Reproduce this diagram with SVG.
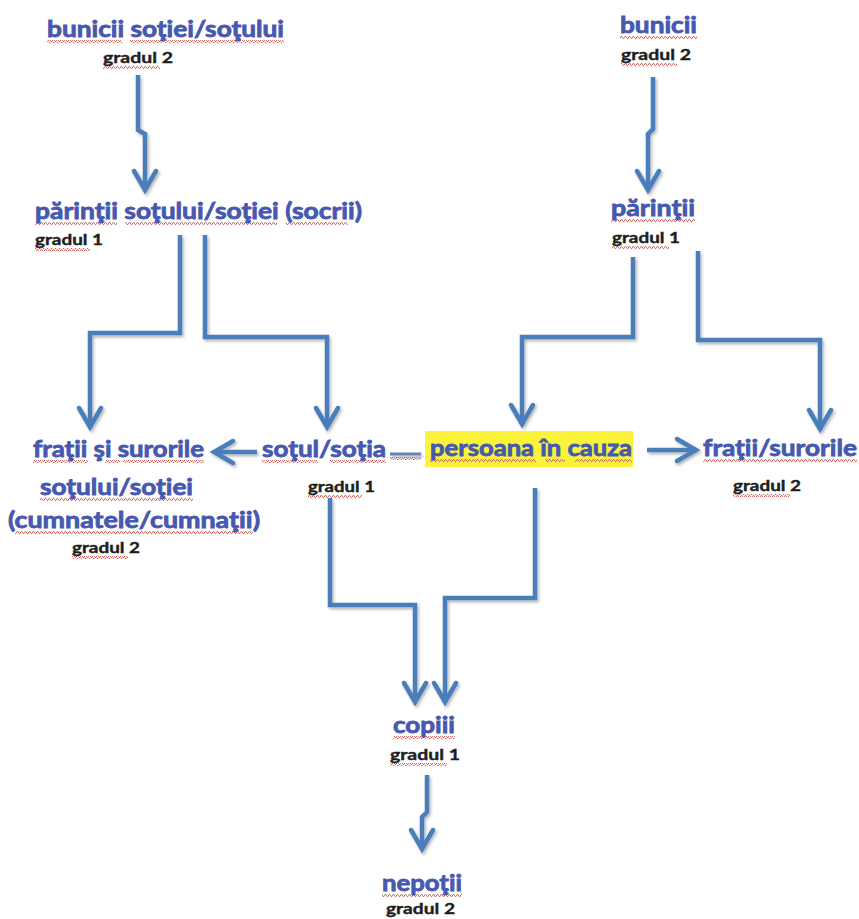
<svg xmlns="http://www.w3.org/2000/svg" width="859" height="919" viewBox="0 0 859 919">
<style>
.lbl{font-family:Lato,"Open Sans","Liberation Sans",sans-serif;font-weight:700;font-size:23px;fill:#4658b0;stroke:#4658b0;stroke-width:0.8}
.deg{font-family:Lato,"Open Sans","Liberation Sans",sans-serif;font-weight:700;font-size:16px;fill:#1e1e1e;stroke:#1e1e1e;stroke-width:0.4}
.conn{fill:none;stroke:#4a7ebb;stroke-width:4.5;stroke-linejoin:miter;marker-end:url(#arr)}
.sq{fill:url(#squig)}
</style>
<defs>
<marker id="arr" markerUnits="userSpaceOnUse" markerWidth="34" markerHeight="34" viewBox="-26 -17 34 34" refX="0" refY="0" orient="auto" overflow="visible">
<path d="M-19,-11 L0,0 L-19,11" fill="none" stroke="#4a7ebb" stroke-width="4.5" stroke-linecap="round"/>
</marker>
<pattern id="squig" patternUnits="userSpaceOnUse" width="4" height="3">
<path d="M0,2.5 L1,0.5 L2,0.5 L3,2.5 L4,2.5" fill="none" stroke="#d0605a" stroke-width="0.9"/>
</pattern>
<filter id="sh" x="-20%" y="-20%" width="140%" height="140%">
<feDropShadow dx="1.5" dy="2" stdDeviation="1.5" flood-color="#000" flood-opacity="0.3"/>
</filter>
</defs>
<rect width="859" height="919" fill="#ffffff"/>

<g id="connectors" filter="url(#sh)">
<path class="conn" d="M138,75 V130 L145,134 V190"/>
<path class="conn" d="M653,77 V129 L648,134 V190"/>
<path class="conn" d="M180,235 V333 H90 V427"/>
<path class="conn" d="M205,235 V337 H327 V427"/>
<path class="conn" d="M633,257 V337 H522 V424"/>
<path class="conn" d="M698,251 V340 H820 V429"/>
<path class="conn" d="M257,452 H214"/>
<path class="conn" d="M647,450 H696"/>
<path class="conn" d="M330,498 V605 H415 V702"/>
<path class="conn" d="M535,488 V598 H445 V702"/>
<path class="conn" d="M427,775 V812 L422,817 V849"/>
<line x1="390" y1="454" x2="421" y2="454" stroke="#6a7fb8" stroke-width="3"/>
</g>

<g id="bunicii-sotiei">
<rect class="sq" x="47" y="40" width="75" height="3"/>
<rect class="sq" x="130" y="40" width="154" height="3"/>
<text class="lbl" x="47" y="37" textLength="237" lengthAdjust="spacingAndGlyphs">bunicii soţiei/soţului</text>
<rect class="sq" x="103" y="66" width="57" height="3"/>
<text class="deg" x="103" y="63" textLength="70" lengthAdjust="spacingAndGlyphs">gradul 2</text>
</g>

<g id="parintii-sotului">
<rect class="sq" x="35" y="222" width="82" height="3"/>
<rect class="sq" x="125" y="222" width="152" height="3"/>
<rect class="sq" x="286" y="222" width="62" height="3"/>
<text class="lbl" x="35" y="219" textLength="327" lengthAdjust="spacingAndGlyphs">părinţii soţului/soţiei (socrii)</text>
<rect class="sq" x="35" y="248" width="55" height="3"/>
<text class="deg" x="35" y="245" textLength="68" lengthAdjust="spacingAndGlyphs">gradul 1</text>
</g>

<g id="bunicii">
<rect class="sq" x="620" y="36" width="77" height="3"/>
<text class="lbl" x="620" y="33" textLength="77" lengthAdjust="spacingAndGlyphs">bunicii</text>
<rect class="sq" x="621" y="63" width="56" height="3"/>
<text class="deg" x="621" y="60" textLength="70" lengthAdjust="spacingAndGlyphs">gradul 2</text>
</g>

<g id="parintii">
<rect class="sq" x="611" y="219" width="84" height="3"/>
<text class="lbl" x="611" y="216" textLength="84" lengthAdjust="spacingAndGlyphs">părinţii</text>
<rect class="sq" x="612" y="246" width="57" height="3"/>
<text class="deg" x="612" y="243" textLength="68" lengthAdjust="spacingAndGlyphs">gradul 1</text>
</g>

<g id="fratii-sotului">
<rect class="sq" x="33" y="460" width="55" height="3"/>
<rect class="sq" x="105" y="460" width="15" height="3"/>
<rect class="sq" x="123" y="460" width="81" height="3"/>
<text class="lbl" x="33" y="457" textLength="171" lengthAdjust="spacingAndGlyphs">fraţii şi surorile</text>
<rect class="sq" x="40" y="498" width="153" height="3"/>
<text class="lbl" x="40" y="495" textLength="153" lengthAdjust="spacingAndGlyphs">soţului/soţiei</text>
<rect class="sq" x="15" y="531" width="238" height="3"/>
<text class="lbl" x="8" y="528" textLength="252" lengthAdjust="spacingAndGlyphs">(cumnatele/cumnaţii)</text>
<rect class="sq" x="72" y="556" width="56" height="3"/>
<text class="deg" x="72" y="553" textLength="68" lengthAdjust="spacingAndGlyphs">gradul 2</text>
</g>

<g id="sotul-sotia">
<rect class="sq" x="262" y="460" width="56" height="3"/>
<rect class="sq" x="330" y="460" width="56" height="3"/>
<rect class="sq" x="390" y="457" width="31" height="3"/>
<text class="lbl" x="262" y="457" textLength="124" lengthAdjust="spacingAndGlyphs">soţul/soţia</text>
<rect class="sq" x="308" y="495" width="54" height="3"/>
<text class="deg" x="308" y="492" textLength="67" lengthAdjust="spacingAndGlyphs">gradul 1</text>
</g>

<g id="persoana">
<rect x="425" y="431" width="208" height="36" fill="#fbf33a"/>
<rect class="sq" x="430" y="459" width="106" height="3"/>
<rect class="sq" x="545" y="459" width="20" height="3"/>
<rect class="sq" x="575" y="459" width="57" height="3"/>
<text class="lbl" x="430" y="456" textLength="202" lengthAdjust="spacingAndGlyphs">persoana în cauza</text>
</g>

<g id="fratii-surorile">
<rect class="sq" x="703" y="459" width="154" height="3"/>
<text class="lbl" x="703" y="456" textLength="154" lengthAdjust="spacingAndGlyphs">fraţii/surorile</text>
<rect class="sq" x="733" y="494" width="57" height="3"/>
<text class="deg" x="733" y="491" textLength="68" lengthAdjust="spacingAndGlyphs">gradul 2</text>
</g>

<g id="copiii">
<rect class="sq" x="393" y="736" width="62" height="3"/>
<text class="lbl" x="393" y="733" textLength="62" lengthAdjust="spacingAndGlyphs">copiii</text>
<rect class="sq" x="390" y="763" width="57" height="3"/>
<text class="deg" x="390" y="760" textLength="70" lengthAdjust="spacingAndGlyphs">gradul 1</text>
</g>

<g id="nepotii">
<rect class="sq" x="382" y="894" width="80" height="3"/>
<text class="lbl" x="382" y="891" textLength="80" lengthAdjust="spacingAndGlyphs">nepoţii</text>
<text class="deg" x="386" y="914" textLength="69" lengthAdjust="spacingAndGlyphs">gradul 2</text>
</g>
</svg>
